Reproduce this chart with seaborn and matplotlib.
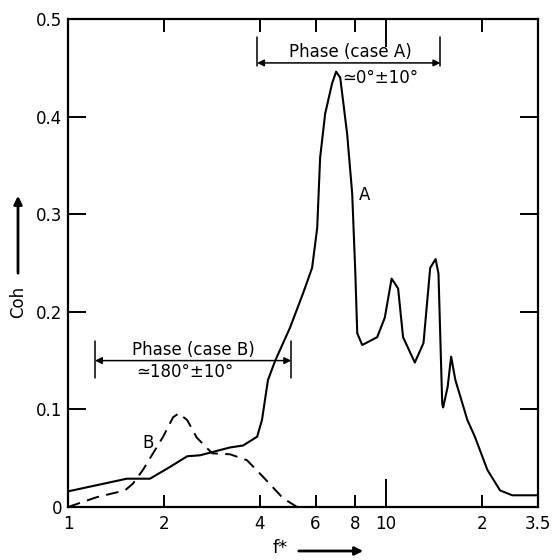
import numpy as np
import pandas as pd
import matplotlib
matplotlib.use("Agg")
import matplotlib.pyplot as plt
import seaborn as sns

# Coherence spectra, case A (solid) and case B (dashed)
freq_a = [1.0, 1.53, 1.81, 2.09, 2.37, 2.60, 3.23, 3.55, 3.93, 4.07, 4.25, 4.48,
          4.99, 5.48, 5.85, 6.07, 6.2, 6.43, 6.76, 6.96, 7.17, 7.54, 7.82, 8.0,
          8.11, 8.41, 9.37, 9.9, 10.4, 10.9, 11.3, 12.3, 13.1, 13.75, 14.3, 14.6,
          15.0, 15.1, 15.6, 16.0, 16.5, 18.0, 19.0, 20.8, 22.8, 24.9, 30.0]
coh_a = [0.016, 0.029, 0.029, 0.041, 0.052, 0.053, 0.061, 0.063, 0.072, 0.089, 0.13, 0.150,
         0.184, 0.219, 0.245, 0.286, 0.358, 0.403, 0.434, 0.446, 0.44, 0.382, 0.321, 0.239,
         0.178, 0.166, 0.174, 0.194, 0.234, 0.224, 0.174, 0.148, 0.168, 0.245, 0.254, 0.239,
         0.106, 0.102, 0.123, 0.154, 0.130, 0.089, 0.072, 0.038, 0.017, 0.012, 0.012]

freq_b = [1.0, 1.23, 1.51, 1.60, 1.72, 1.99, 2.14, 2.23, 2.37, 2.54, 2.84, 3.23,
          3.65, 4.1, 4.74, 5.25]
coh_b = [0.0, 0.010, 0.017, 0.024, 0.038, 0.072, 0.092, 0.096, 0.089, 0.071, 0.055, 0.054,
         0.048, 0.031, 0.009, 0.0]

x_ticks = [1, 2, 4, 6, 8, 10, 20, 30]
x_tick_labels = ["1", "2", "4", "6", "8", "10", "2", "3.5"]
y_ticks = [0, 0.1, 0.2, 0.3, 0.4, 0.5]
y_tick_labels = ["0", "0.1", "0.2", "0.3", "0.4", "0.5"]

sns.set_style("ticks")
plt.rcParams["font.family"] = ["DejaVu Sans"]
plt.rcParams["text.color"] = "black"
plt.rcParams["xtick.color"] = "black"
plt.rcParams["ytick.color"] = "black"

df_a = pd.DataFrame({"f": freq_a, "coh": coh_a})
df_b = pd.DataFrame({"f": freq_b, "coh": coh_b})

fig = plt.figure(figsize=(5.53, 5.60), dpi=100)
ax = fig.add_axes([68 / 553, 1 - 507 / 560, (538 - 68) / 553, (507 - 19) / 560])

sns.lineplot(data=df_a, x="f", y="coh", ax=ax, color="black", lw=1.5, sort=False)
sns.lineplot(data=df_b, x="f", y="coh", ax=ax, color="black", lw=1.4, sort=False,
             dashes=False, linestyle=(0, (6.5, 3.8)))

ax.set_xscale("log")
ax.set_xlim(1, 30)
ax.set_ylim(0, 0.5)
ax.set_xticks(x_ticks)
ax.set_xticklabels(x_tick_labels)
ax.xaxis.set_minor_locator(matplotlib.ticker.NullLocator())
ax.set_yticks(y_ticks)
ax.set_yticklabels(y_tick_labels)
ax.set_xlabel("")
ax.set_ylabel("")

for s in ax.spines.values():
    s.set_visible(True)
    s.set_linewidth(1.6)
    s.set_color("black")

ax.tick_params(axis="both", direction="in", top=True, right=True, width=1.4,
               labelsize=12, colors="black", labelcolor="black")
ax.tick_params(axis="x", length=9, pad=6)
ax.tick_params(axis="y", length=13, pad=4)
# longer decade tick at 10
t10 = ax.xaxis.get_major_ticks()[5]
t10.tick1line.set_markersize(20)
t10.tick2line.set_markersize(20)

# curve labels
ax.text(8.2, 0.32, "A", fontsize=12, ha="left", va="center")
ax.text(1.78, 0.066, "B", fontsize=12, ha="center", va="center")

arrow_kw = dict(arrowstyle="<|-|>", color="black", lw=1.1,
                mutation_scale=10, shrinkA=0, shrinkB=0)

# phase range, case A
ax.annotate("", xy=(3.93, 0.455), xytext=(14.8, 0.455), arrowprops=arrow_kw)
ax.plot([3.93, 3.93], [0.452, 0.482], color="black", lw=1.1)
ax.plot([14.8, 14.8], [0.452, 0.482], color="black", lw=1.1)
ax.text(7.7, 0.466, "Phase (case A)", fontsize=12, ha="center", va="center")
ax.text(9.55, 0.440, "≃0°±10°", fontsize=12, ha="center", va="center")

# phase range, case B
ax.annotate("", xy=(1.216, 0.150), xytext=(5.03, 0.150), arrowprops=arrow_kw)
ax.plot([1.216, 1.216], [0.132, 0.170], color="black", lw=1.1)
ax.plot([5.03, 5.03], [0.132, 0.170], color="black", lw=1.1)
ax.text(2.47, 0.161, "Phase (case B)", fontsize=12, ha="center", va="center")
ax.text(2.33, 0.138, "≃180°±10°", fontsize=12, ha="center", va="center")

# axis titles with arrows
fig.text(18 / 553, 1 - 302 / 560, "Coh", rotation=90, fontsize=12,
         ha="center", va="center")
fig.add_artist(matplotlib.patches.FancyArrowPatch(
    (18 / 553, 1 - 276 / 560), (18 / 553, 1 - 193 / 560),
    transform=fig.transFigure, arrowstyle="-|>", mutation_scale=12,
    color="black", lw=2))
fig.text(280 / 553, 1 - 548 / 560, "f*", fontsize=13, ha="center", va="center")
fig.add_artist(matplotlib.patches.FancyArrowPatch(
    (296 / 553, 1 - 551 / 560), (366 / 553, 1 - 551 / 560),
    transform=fig.transFigure, arrowstyle="-|>", mutation_scale=12,
    color="black", lw=2))

fig.savefig("out.png", dpi=100)
